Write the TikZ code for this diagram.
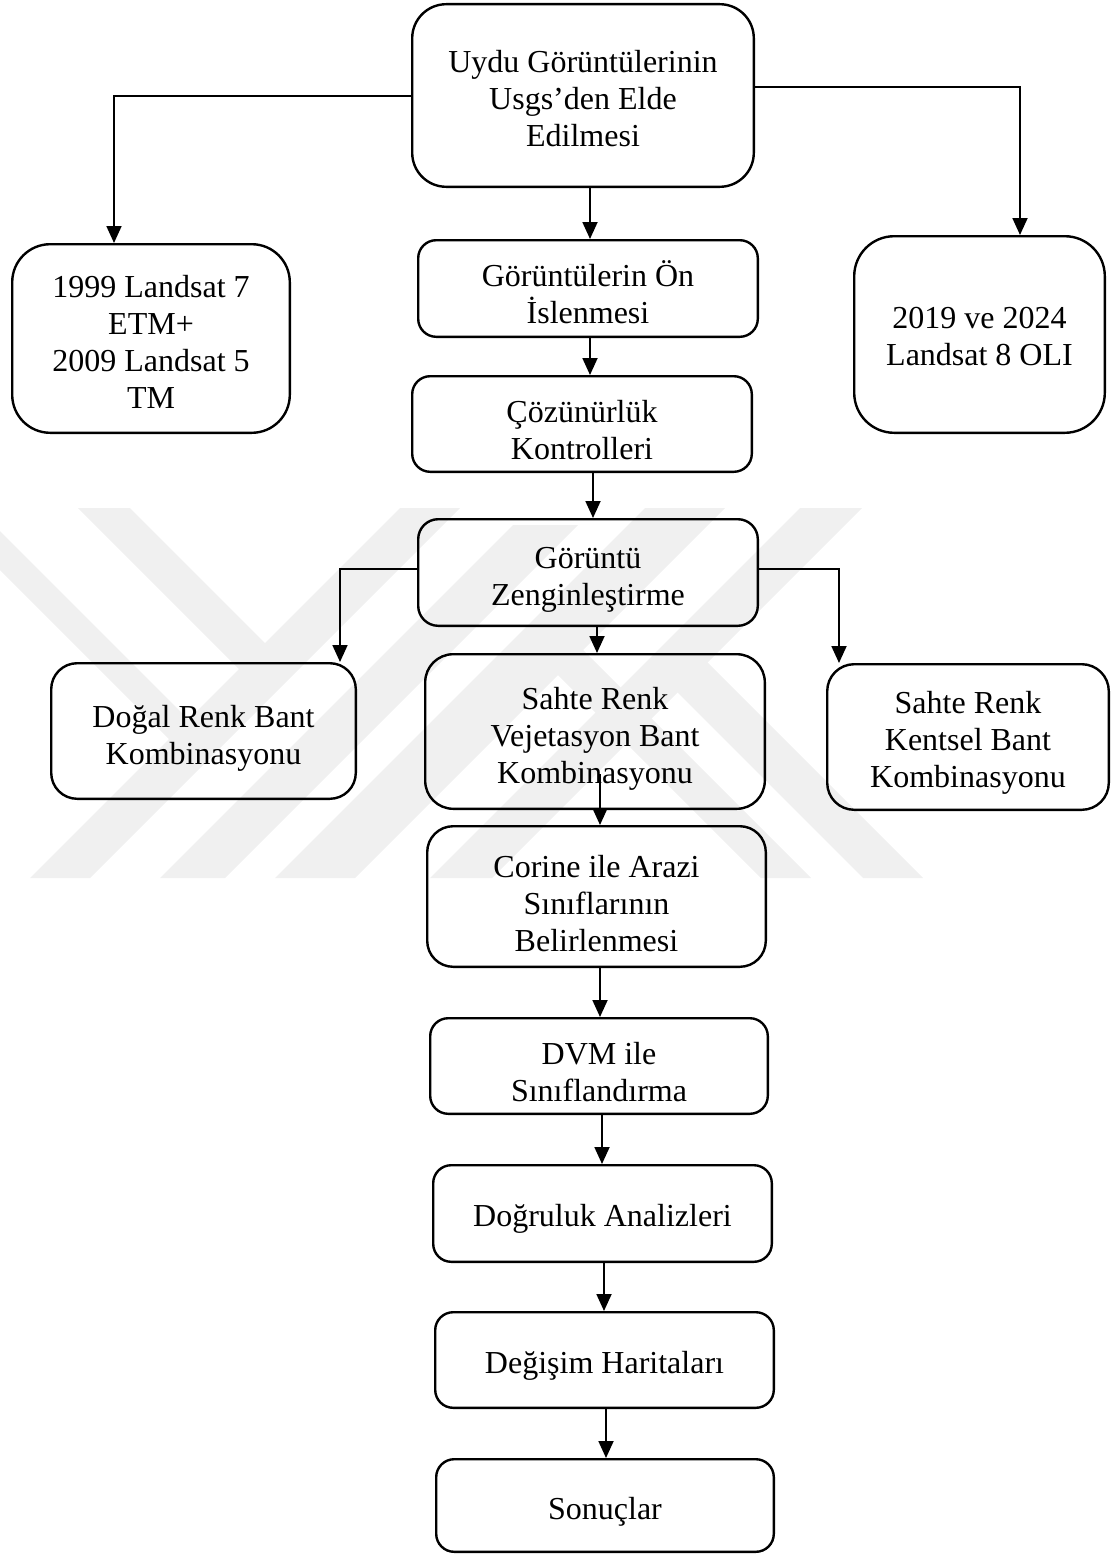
\documentclass[tikz,border=0pt]{standalone}
\usepackage{fontspec}
\setmainfont{Liberation Serif}
\usetikzlibrary{arrows.meta}
\begin{document}
\begin{tikzpicture}[x=1pt,y=-1pt,
  box/.style={draw, line width=2.4pt, inner sep=0pt},
  txt/.style={align=center, inner sep=0pt, font=\fontsize{32}{37}\selectfont},
  arr/.style={line width=1.8pt, -{Triangle[length=17pt,width=15pt]}},
  wm/.style={fill=black!6, draw=none}]
\useasboundingbox (0,0) rectangle (1114,1555);
% faint watermark
\begin{scope}
\clip (0,508) rectangle (1114,878);
\fill[wm] (400,508) -- (460,508) -- (90,878) -- (30,878) -- cycle;
\fill[wm] (513,525) -- (578,525) -- (225,878) -- (160,878) -- cycle;
\fill[wm] (645,508) -- (725,508) -- (355,878) -- (275,878) -- cycle;
\fill[wm] (800,508) -- (862,508) -- (492,878) -- (430,878) -- cycle;
\fill[wm] (-62,508) -- (-23,508) -- (203.5,734.5) -- (184,754) -- cycle;
\fill[wm] (78,508) -- (130,508) -- (280,658) -- (254,684) -- cycle;
\fill[wm] (692,647) -- (923,878) -- (863,878) -- (662,677) -- cycle;
\fill[wm] (568,635) -- (811,878) -- (761,878) -- (540,657) -- cycle;
\end{scope}
% boxes
\node[box, minimum width=341.6pt, minimum height=182.6pt, rounded corners=34pt] (top) at (583,95.5) {};
\node[box, minimum width=277.6pt, minimum height=188.6pt, rounded corners=38pt] (left) at (151,338.5) {};
\node[box, minimum width=339.6pt, minimum height=96.6pt, rounded corners=18pt] (b2) at (588,288.5) {};
\node[box, minimum width=250.6pt, minimum height=196.6pt, rounded corners=40pt] (right) at (979.5,334.5) {};
\node[box, minimum width=339.6pt, minimum height=95.6pt, rounded corners=18pt] (b3) at (582,424) {};
\node[box, minimum width=339.6pt, minimum height=106.6pt, rounded corners=20pt] (zeng) at (588,572.5) {};
\node[box, minimum width=304.6pt, minimum height=135.6pt, rounded corners=26pt] (dogal) at (203.5,731) {};
\node[box, minimum width=339.6pt, minimum height=154.6pt, rounded corners=28pt] (sahte) at (595,731.5) {};
\node[box, minimum width=281.6pt, minimum height=145.6pt, rounded corners=27pt] (kentsel) at (968,737) {};
\node[box, minimum width=338.6pt, minimum height=140.6pt, rounded corners=26pt] (corine) at (596.5,896.5) {};
\node[box, minimum width=337.6pt, minimum height=95.6pt, rounded corners=18pt] (dvm) at (599,1066) {};
\node[box, minimum width=338.6pt, minimum height=96.6pt, rounded corners=18pt] (dogru) at (602.5,1213.5) {};
\node[box, minimum width=338.6pt, minimum height=95.6pt, rounded corners=18pt] (degis) at (604.5,1360) {};
\node[box, minimum width=337.6pt, minimum height=92.6pt, rounded corners=18pt] (sonuc) at (605,1505.5) {};
% texts
\node[txt] (top-t) at ([yshift=-3pt]top.center) {Uydu Görüntülerinin\\Usgs’den Elde\\Edilmesi};
\node[txt] (left-t) at ([yshift=-3pt]left.center) {1999 Landsat 7\\ETM+\\2009 Landsat 5\\TM};
\node[txt] (b2-t) at ([yshift=-4pt]b2.center) {Görüntülerin Ön\\İslenmesi};
\node[txt] (right-t) at ([yshift=-2pt]right.center) {2019 ve 2024\\Landsat 8 OLI};
\node[txt] (b3-t) at ([yshift=-6pt]b3.center) {Çözünürlük\\Kontrolleri};
\node[txt] (zeng-t) at ([yshift=-7pt]zeng.center) {Görüntü\\Zenginleştirme};
\node[txt] (dogal-t) at ([yshift=-7pt]dogal.center) {Doğal Renk Bant\\Kombinasyonu};
\node[txt] (sahte-t) at ([yshift=-7pt]sahte.center) {Sahte Renk\\Vejetasyon Bant\\Kombinasyonu};
\node[txt] (kentsel-t) at ([yshift=-6pt]kentsel.center) {Sahte Renk\\Kentsel Bant\\Kombinasyonu};
\node[txt] (corine-t) at ([yshift=-7pt]corine.center) {Corine ile Arazi\\Sınıflarının\\Belirlenmesi};
\node[txt] (dvm-t) at ([yshift=-6pt]dvm.center) {DVM ile\\Sınıflandırma};
\node[txt] (dogru-t) at ([yshift=-5pt]dogru.center) {Doğruluk Analizleri};
\node[txt] (degis-t) at ([yshift=-6pt]degis.center) {Değişim Haritaları};
\node[txt] (sonuc-t) at ([yshift=-6pt]sonuc.center) {Sonuçlar};
% junction coordinates
\coordinate (jL) at (114,96);
\coordinate (jR) at (1020,87);
\coordinate (c1) at (590,0);
\coordinate (c2) at (593,0);
\coordinate (jDL) at (340,569);
\coordinate (jDR) at (839,569);
\coordinate (c3) at (597,0);
\coordinate (s0) at (600,774);
\coordinate (c5) at (600,0);
\coordinate (c6) at (602,0);
\coordinate (c7) at (604,0);
\coordinate (c8) at (606,0);
% connectors
\draw[arr] (top.west |- jL) -- (jL) -- (jL |- left.north);
\draw[arr] (top.east |- jR) -- (jR) -- (jR |- right.north);
\draw[arr] (c1 |- top.south) -- (c1 |- b2.north);
\draw[arr] (c1 |- b2.south) -- (c1 |- b3.north);
\draw[arr] (c2 |- b3.south) -- (c2 |- zeng.north);
\draw[arr] (zeng.west |- jDL) -- (jDL) -- (jDL |- dogal.north);
\draw[arr] (zeng.east |- jDR) -- (jDR) -- (jDR |- kentsel.north);
\draw[arr] (c3 |- zeng.south) -- (c3 |- sahte.north);
\draw[arr] (s0) -- (s0 |- corine.north);
\draw[arr] (c5 |- corine.south) -- (c5 |- dvm.north);
\draw[arr] (c6 |- dvm.south) -- (c6 |- dogru.north);
\draw[arr] (c7 |- dogru.south) -- (c7 |- degis.north);
\draw[arr] (c8 |- degis.south) -- (c8 |- sonuc.north);
\end{tikzpicture}
\end{document}
